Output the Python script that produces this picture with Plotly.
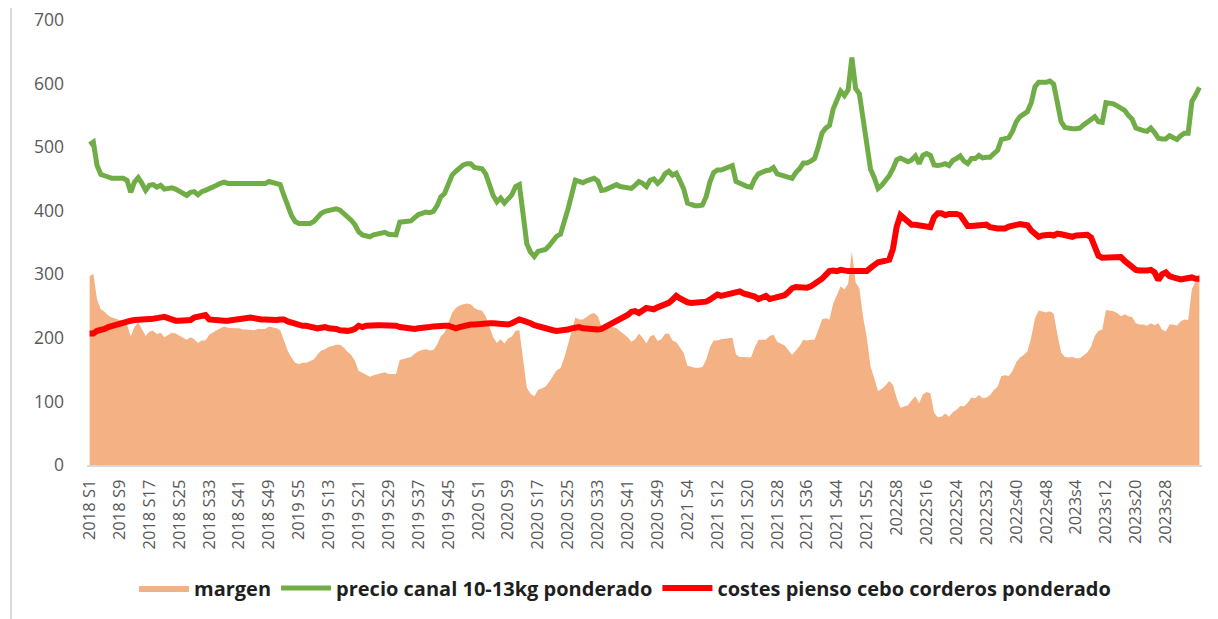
import plotly.graph_objects as go

# ---- categories (weekly, 2018 S1 .. 2023 S37) ----
year_weeks = [(2018, 52), (2019, 52), (2020, 53), (2021, 52), (2022, 52), (2023, 37)]


def week_label(y, w):
    if y <= 2021:
        return f"{y} S{w}"
    if y == 2022 and w < 36:
        return f"{y}S{w}"
    return f"{y}s{w}"


categories = [week_label(y, w) for y, n in year_weeks for w in range(1, n + 1)]
tick_labels = categories[0:289:8]   # 2018 S1 ... 2023s28

# ---- series values ----
precio = [
    504, 508, 471, 457, 455, 452, 451, 451, 451, 451,
    448, 429, 445, 452, 443, 432, 440, 441, 437, 440,
    434, 435, 436, 434, 430, 427, 424, 429, 430, 425,
    430, 432, 434, 437, 440, 443, 445, 443, 443, 443,
    444, 443, 444, 444, 443, 443, 443, 443, 446, 445,
    443, 441, 424, 406, 393, 383, 380, 380, 380, 380,
    383, 389, 396, 399, 401, 402, 403, 401, 396, 389,
    385, 378, 367, 362, 361, 359, 362, 363, 364, 366,
    363, 362, 362, 382, 383, 383, 384, 389, 394, 396,
    398, 397, 399, 408, 422, 427, 443, 456, 462, 468,
    472, 474, 474, 468, 466, 466, 458, 440, 424, 414,
    420, 412, 420, 425, 438, 441, 395, 348, 335, 328,
    336, 338, 339, 345, 352, 360, 363, 380, 402, 425,
    448, 446, 444, 447, 450, 451, 447, 432, 433, 436,
    440, 441, 438, 437, 437, 435, 440, 446, 443, 438,
    448, 450, 443, 448, 458, 462, 456, 459, 447, 434,
    412, 409, 408, 408, 409, 422, 445, 460, 464, 464,
    466, 468, 471, 446, 443, 440, 438, 437, 450, 458,
    461, 463, 464, 468, 458, 456, 455, 453, 451, 460,
    466, 475, 475, 478, 482, 500, 522, 530, 534, 560,
    573, 588, 581, 590, 641, 592, 584, 540, 505, 465,
    452, 435, 440, 447, 455, 466, 480, 483, 480, 477,
    480, 486, 474, 487, 490, 487, 472, 471, 472, 474,
    471, 479, 482, 486, 478, 474, 482, 482, 487, 483,
    484, 484, 490, 495, 512, 513, 515, 525, 540, 548,
    551, 556, 570, 595, 602, 602, 602, 604, 599, 570,
    540, 531, 529, 529, 529, 530, 535, 539, 544, 548,
    540, 539, 570, 569, 568, 565, 561, 558, 550, 544,
    530, 527, 526, 525, 530, 523, 514, 513, 513, 518,
    516, 512, 518, 522, 522, 572, 582, 594,
]

costes = [
    207, 207, 211, 212, 214, 217, 219, 221, 223, 225,
    227, 227, 228, 228, 229, 229, 230, 230, 231, 232,
    233, 231, 228, 227, 227, 227, 227, 228, 232, 233,
    234, 236, 229, 228, 228, 228, 227, 227, 228, 228,
    229, 230, 231, 232, 231, 229, 229, 229, 228, 228,
    228, 229, 229, 226, 224, 222, 221, 219, 219, 217,
    217, 215, 216, 217, 215, 215, 214, 212, 211, 211,
    212, 214, 219, 217, 219, 220, 221, 220, 220, 220,
    220, 219, 219, 217, 216, 215, 214, 214, 215, 215,
    216, 217, 218, 219, 219, 219, 219, 217, 215, 217,
    219, 220, 221, 221, 222, 223, 224, 223, 223, 222,
    222, 221, 221, 223, 227, 229, 227, 226, 223, 220,
    218, 217, 216, 214, 212, 211, 211, 212, 213, 215,
    216, 217, 215, 214, 213, 212, 213, 214, 217, 220,
    223, 226, 228, 232, 236, 241, 242, 239, 243, 247,
    246, 245, 248, 250, 252, 255, 260, 266, 262, 258,
    256, 255, 255, 255, 255, 257, 260, 264, 268, 266,
    267, 269, 271, 272, 273, 270, 269, 268, 265, 261,
    264, 266, 261, 263, 264, 265, 267, 272, 278, 280,
    279, 278, 279, 281, 285, 288, 293, 299, 305, 306,
    305, 307, 305, 305, 305, 305, 306, 307, 305, 310,
    316, 319, 320, 322, 323, 340, 375, 393, 388, 383,
    378, 378, 377, 376, 375, 374, 390, 396, 396, 393,
    395, 396, 395, 393, 386, 376, 376, 377, 377, 378,
    378, 374, 372, 372, 372, 372, 375, 377, 378, 379,
    378, 377, 369, 364, 359, 361, 362, 362, 361, 364,
    363, 361, 360, 359, 361, 362, 362, 362, 358, 345,
    329, 326, 326, 326, 326, 326, 327, 321, 316, 311,
    307, 306, 305, 306, 307, 303, 291, 300, 303, 297,
    295, 293, 292, 293, 294, 295, 293, 293,
]

margen = [
    297, 301, 260, 245, 241, 235, 232, 230, 228, 226,
    221, 202, 217, 224, 214, 203, 210, 211, 206, 208,
    201, 204, 208, 207, 203, 200, 197, 201, 198, 192,
    196, 196, 205, 209, 212, 215, 218, 216, 215, 215,
    215, 213, 213, 212, 212, 214, 214, 214, 218, 217,
    215, 212, 195, 180, 169, 161, 159, 161, 161, 163,
    166, 174, 180, 182, 186, 187, 189, 189, 185, 178,
    173, 164, 148, 145, 142, 139, 141, 143, 144, 146,
    143, 143, 143, 165, 167, 168, 170, 175, 179, 181,
    182, 180, 181, 189, 203, 208, 224, 239, 247, 251,
    253, 254, 253, 247, 244, 243, 234, 217, 201, 192,
    198, 191, 199, 202, 211, 212, 168, 122, 112, 108,
    118, 121, 123, 131, 140, 149, 152, 168, 189, 210,
    232, 229, 229, 233, 237, 239, 234, 218, 216, 216,
    217, 215, 210, 205, 201, 194, 198, 207, 200, 191,
    202, 205, 195, 198, 206, 207, 196, 193, 185, 176,
    156, 154, 153, 153, 154, 165, 185, 196, 196, 198,
    199, 199, 200, 174, 170, 170, 169, 169, 185, 197,
    197, 197, 203, 205, 194, 191, 188, 181, 173, 180,
    187, 197, 196, 197, 197, 212, 229, 231, 229, 254,
    268, 281, 276, 285, 336, 287, 278, 233, 200, 155,
    136, 116, 120, 125, 132, 126, 105, 90, 92, 94,
    102, 108, 97, 111, 115, 113, 82, 75, 76, 81,
    76, 83, 87, 93, 92, 98, 106, 105, 110, 105,
    106, 110, 118, 123, 140, 141, 140, 148, 162, 169,
    173, 179, 201, 231, 243, 241, 240, 242, 238, 206,
    177, 170, 169, 170, 168, 168, 173, 177, 186, 203,
    211, 213, 244, 243, 242, 239, 234, 237, 234, 233,
    223, 221, 221, 219, 223, 220, 223, 213, 210, 221,
    221, 219, 226, 229, 228, 277, 289, 301,
]

y_ticks = [0, 100, 200, 300, 400, 500, 600, 700]

# ---- figure (page body adds an 8px offset) ----
W, H = 1210, 611
ML, MR, MT, MB = 79, 16, 12, 154

fig = go.Figure()
fig.add_trace(go.Scatter(
    x=categories, y=margen, name="margen", mode="lines",
    fill="tozeroy", fillcolor="#F4B183",
    line=dict(color="#F4B183", width=0),
))
fig.add_trace(go.Scatter(
    x=categories, y=precio, name="precio canal 10-13kg ponderado", mode="lines",
    line=dict(color="#70AD47", width=5),
))
fig.add_trace(go.Scatter(
    x=categories, y=costes, name="costes pienso cebo corderos ponderado", mode="lines",
    line=dict(color="#FF0000", width=6),
))

plot_h = H - MT - MB
plot_w = W - ML - MR

fig.update_layout(
    width=W, height=H,
    margin=dict(l=ML, r=MR, t=MT, b=MB, autoexpand=False),
    paper_bgcolor="white", plot_bgcolor="white",
    font=dict(family="Open Sans, Arial, sans-serif", color="#595959"),
    showlegend=True,
    legend=dict(
        orientation="h", x=(617 - ML) / plot_w, xanchor="center",
        y=(H - MB - 580) / plot_h, yanchor="middle",
        font=dict(size=20, color="#1F1F1F", family="Open Sans, Arial, sans-serif", weight="bold"),
        itemwidth=50, traceorder="normal",
    ),
    xaxis=dict(
        type="category", categoryorder="array", categoryarray=categories,
        range=[-0.7, len(categories) - 0.3],
        tickmode="array", tickvals=tick_labels, ticktext=tick_labels,
        tickangle=-90, tickfont=dict(size=16.5, color="#595959"),
        showgrid=False, zeroline=False,
        showline=True, linecolor="#D9D9D9", linewidth=2,
        ticks="", ticklabelstandoff=6,
    ),
    yaxis=dict(
        range=[0, 700], tickmode="array", tickvals=y_ticks,
        tickfont=dict(size=17.5, color="#595959"),
        showgrid=False, zeroline=False, showline=False,
        ticks="", ticklabelstandoff=22, ticklabeloverflow="allow",
    ),
    shapes=[dict(
        type="line", xref="paper", yref="paper",
        x0=(3 - ML) / plot_w, x1=(3 - ML) / plot_w,
        y0=(H - MB - H) / plot_h, y1=(H - MB + MT) / plot_h,
        line=dict(color="#D9D9D9", width=2),
    )],
)

fig.write_html("out.html")
